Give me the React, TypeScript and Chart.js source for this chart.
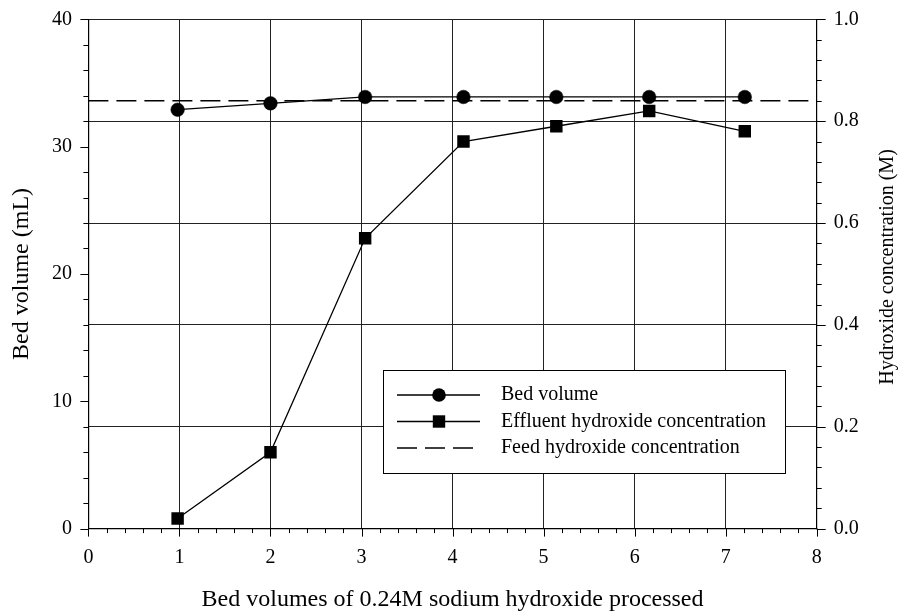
import React, { useEffect, useRef } from 'react';
import { Chart, registerables } from 'chart.js';

Chart.register(...registerables);

// ---- data ----
const xValues = [0.98, 2.0, 3.04, 4.12, 5.14, 6.16, 7.21];
const bedVolume = [32.9, 33.4, 33.9, 33.9, 33.9, 33.9, 33.9];
const effluentConc = [0.02, 0.15, 0.57, 0.76, 0.79, 0.82, 0.78];
const feedX = [0, 8];
const feedConc = [0.84, 0.84];
const legendLabels = ['Bed volume', 'Effluent hydroxide concentration', 'Feed hydroxide concentration'];
const xTitle = 'Bed volumes of 0.24M sodium hydroxide processed';
const yTitle = 'Bed volume (mL)';
const y2Title = 'Hydroxide concentration (M)';

const FONT = '"Liberation Serif", "Times New Roman", serif';

function px(v: number) {
  return Math.round(v) + 0.5;
}

const extrasPlugin = {
  id: 'extras',
  afterDraw(chart: any) {
    const ctx = chart.ctx as CanvasRenderingContext2D;
    const xs = chart.scales.x;
    const ys = chart.scales.y;
    const y2s = chart.scales.y2;
    ctx.save();
    ctx.strokeStyle = '#000';
    ctx.lineWidth = 1;
    ctx.beginPath();
    // x ticks: major 1, minor 0.2
    for (let i = 0; i <= 40; i++) {
      const v = i * 0.2;
      const len = i % 5 === 0 ? 8 : 4.5;
      const p = px(xs.getPixelForValue(v));
      ctx.moveTo(p, xs.top);
      ctx.lineTo(p, xs.top + len);
    }
    // left y ticks: major 10, minor 2
    for (let i = 0; i <= 20; i++) {
      const v = i * 2;
      const len = i % 5 === 0 ? 8 : 5;
      const p = px(ys.getPixelForValue(v));
      ctx.moveTo(ys.right, p);
      ctx.lineTo(ys.right - len, p);
    }
    // right y ticks: major 0.2, minor 0.04
    for (let i = 0; i <= 25; i++) {
      const v = i * 0.04;
      const len = i % 5 === 0 ? 9 : 5;
      const p = px(y2s.getPixelForValue(v));
      ctx.moveTo(y2s.left, p);
      ctx.lineTo(y2s.left + len, p);
    }
    ctx.stroke();

    // right axis title (reads bottom-to-top)
    ctx.save();
    ctx.translate(888, (chart.chartArea.top + chart.chartArea.bottom) / 2 - 7);
    ctx.rotate(-Math.PI / 2);
    ctx.fillStyle = '#000';
    ctx.font = '20px ' + FONT;
    ctx.textAlign = 'center';
    ctx.textBaseline = 'middle';
    ctx.fillText(y2Title, 0, 0);
    ctx.restore();

    // legend box
    const bx = 383, by = 370, bw = 402, bh = 103;
    ctx.fillStyle = '#fff';
    ctx.fillRect(bx, by, bw, bh);
    ctx.strokeStyle = '#000';
    ctx.lineWidth = 1;
    ctx.strokeRect(bx + 0.5, by + 0.5, bw, bh);
    const rows = [395, 421.5, 448];
    const lx0 = 397, lx1 = 480, mx = 439, tx = 501;
    ctx.lineWidth = 1.3;
    // row 1
    ctx.beginPath();
    ctx.moveTo(lx0, rows[0]);
    ctx.lineTo(lx1, rows[0]);
    ctx.stroke();
    ctx.fillStyle = '#000';
    ctx.beginPath();
    ctx.arc(mx, rows[0], 6.8, 0, Math.PI * 2);
    ctx.fill();
    // row 2
    ctx.beginPath();
    ctx.moveTo(lx0, rows[1]);
    ctx.lineTo(lx1, rows[1]);
    ctx.stroke();
    ctx.fillRect(mx - 6.2, rows[1] - 6.2, 12.4, 12.4);
    // row 3
    ctx.setLineDash([20, 8]);
    ctx.beginPath();
    ctx.moveTo(lx0, rows[2]);
    ctx.lineTo(lx0 + 76, rows[2]);
    ctx.stroke();
    ctx.setLineDash([]);
    ctx.font = '20px ' + FONT;
    ctx.textAlign = 'left';
    ctx.textBaseline = 'middle';
    legendLabels.forEach((t, i) => ctx.fillText(t, tx, rows[i]));
    ctx.restore();
  },
};

export default function App() {
  const ref = useRef<HTMLCanvasElement>(null);
  useEffect(() => {
    if (!ref.current) return;
    const chart = new Chart(ref.current, {
      type: 'line',
      data: {
        datasets: [
          {
            label: legendLabels[0],
            data: xValues.map((x, i) => ({ x, y: bedVolume[i] })),
            yAxisID: 'y',
            borderColor: '#000',
            backgroundColor: '#000',
            borderWidth: 1.3,
            pointStyle: 'circle',
            pointRadius: 6.8,
            pointBorderWidth: 0.5,
            tension: 0,
          },
          {
            label: legendLabels[1],
            data: xValues.map((x, i) => ({ x, y: effluentConc[i] })),
            yAxisID: 'y2',
            borderColor: '#000',
            backgroundColor: '#000',
            borderWidth: 1.3,
            pointStyle: 'rect',
            pointRadius: 8.8,
            pointBorderWidth: 0,
            tension: 0,
          },
          {
            label: legendLabels[2],
            data: feedX.map((x, i) => ({ x, y: feedConc[i] })),
            yAxisID: 'y2',
            borderColor: '#000',
            borderWidth: 1.5,
            borderDash: [20, 8],
            pointRadius: 0,
            tension: 0,
          },
        ],
      },
      options: {
        animation: false,
        responsive: false,
        devicePixelRatio: 1,
        layout: { padding: { top: 19.3, left: 0, right: 0, bottom: 0 } },
        plugins: {
          legend: { display: false },
          tooltip: { enabled: false },
        },
        scales: {
          x: {
            type: 'linear',
            min: 0,
            max: 8,
            ticks: { stepSize: 1, color: '#000', font: { family: FONT, size: 20 }, padding: 17 },
            grid: { drawTicks: false, color: '#222', lineWidth: 1 },
            border: { color: '#000', width: 1.2 },
            title: {
              display: true,
              text: xTitle,
              color: '#000',
              font: { family: FONT, size: 24, lineHeight: 1 },
              padding: { top: 0, bottom: 0 },
            },
            afterFit: (s: any) => {
              s.height = 83.4;
              s.paddingLeft = 0;
              s.paddingRight = 0;
            },
          },
          y: {
            type: 'linear',
            position: 'left',
            min: 0,
            max: 40,
            ticks: { stepSize: 10, color: '#000', font: { family: FONT, size: 20 }, padding: 16.5 },
            grid: { display: false, drawTicks: false },
            border: { color: '#000', width: 1.2 },
            title: {
              display: true,
              text: yTitle,
              color: '#000',
              font: { family: FONT, size: 24, lineHeight: 1 },
              padding: { top: 10, bottom: 0 },
            },
            afterFit: (s: any) => {
              s.width = 88.4;
              s.paddingTop = 0;
              s.paddingBottom = 0;
            },
          },
          y2: {
            type: 'linear',
            position: 'right',
            min: 0,
            max: 1,
            ticks: {
              stepSize: 0.2,
              color: '#000',
              font: { family: FONT, size: 20 },
              padding: 17,
              callback: (v: any) => Number(v).toFixed(1),
            },
            grid: { drawTicks: false, color: '#222', lineWidth: 1 },
            border: { color: '#000', width: 1.2 },
            afterFit: (s: any) => {
              s.width = 82.3;
              s.paddingTop = 0;
              s.paddingBottom = 0;
            },
          },
        },
      },
      plugins: [extrasPlugin],
    });
    return () => chart.destroy();
  }, []);
  return (
    <div style={{ position: 'fixed', left: 0, top: 0, width: 899, height: 612, background: '#fff' }}>
      <canvas ref={ref} width={899} height={612} style={{ display: 'block' }} />
    </div>
  );
}
